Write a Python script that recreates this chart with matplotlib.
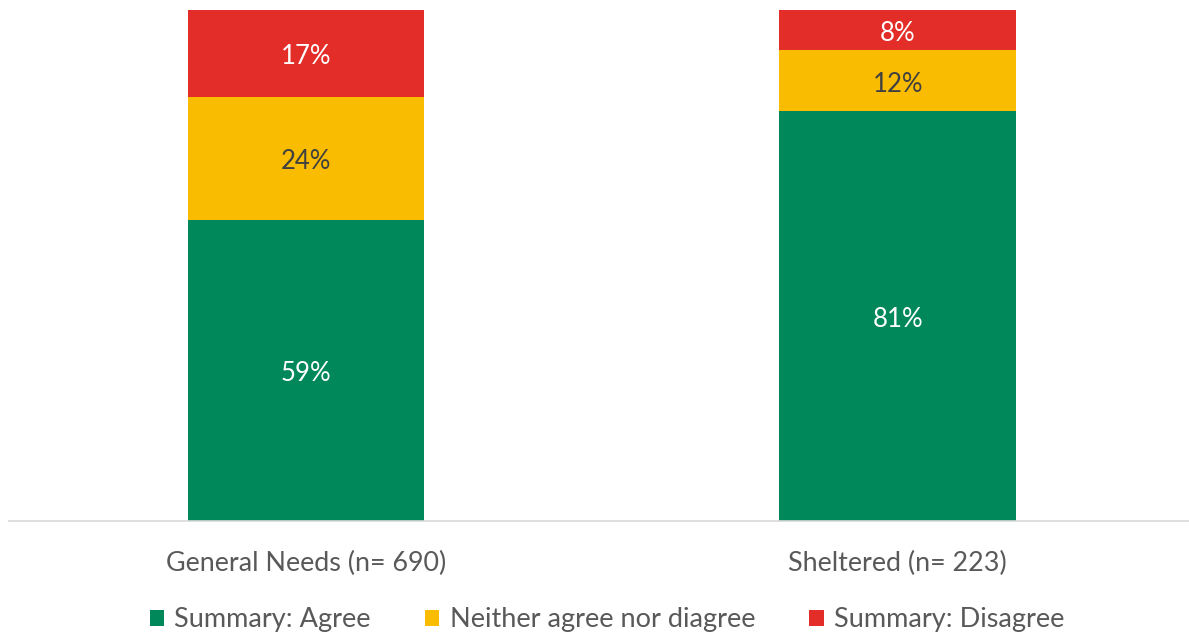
import matplotlib
matplotlib.use("Agg")
import matplotlib.pyplot as plt
import numpy as np

categories = ["General Needs (n= 690)", "Sheltered (n= 223)"]
series_names = ["Summary: Agree", "Neither agree nor diagree", "Summary: Disagree"]
agree = [59, 81]
neither = [24, 12]
disagree = [17, 8]
colors = ["#00875A", "#F9BC00", "#E32D28"]
label_colors = ["white", "#404040", "white"]

plt.rcParams['font.family'] = ['Lato', 'DejaVu Sans']

W, H = 1189, 635
fig = plt.figure(figsize=(W/100, H/100), dpi=100)
ax = fig.add_axes([9/W, (H-521)/H, (W-9)/W, 511/H])

data = np.array([agree, neither, disagree], dtype=float)
totals = data.sum(axis=0)
pct = data / totals * 100
x = np.arange(len(categories))
bottom = np.zeros(len(categories))
for i, name in enumerate(series_names):
    bars = ax.bar(x, pct[i], 0.40, bottom=bottom, color=colors[i], label=name)
    for j, b in enumerate(bars):
        ax.annotate(f"{int(data[i][j])}%",
                    (b.get_x() + b.get_width()/2, bottom[j] + pct[i][j]/2),
                    xytext=(0, -2.5), textcoords='offset points',
                    ha='center', va='center',
                    color=label_colors[i], fontsize=18.5)
    bottom += pct[i]

ax.set_xlim(-0.502, 1.492)
ax.set_ylim(0, 100)
ax.set_yticks([])
ax.set_xticks(x)
ax.set_xticklabels(categories, fontsize=19.4, color="#595959")
ax.tick_params(axis='x', length=0, pad=21.5)
for s in ['top', 'right', 'left']:
    ax.spines[s].set_visible(False)
ax.spines['bottom'].set_color('#D9D9D9')
ax.spines['bottom'].set_linewidth(1.2)

leg = fig.legend(loc='center', bbox_to_anchor=(607/W, (H-620)/H), ncol=3, frameon=False,
                 fontsize=19.5, handlelength=0.53, handleheight=0.53, handletextpad=0.38,
                 columnspacing=2.0)
for t in leg.get_texts():
    t.set_color("#595959")

fig.savefig("out.png", dpi=100)
